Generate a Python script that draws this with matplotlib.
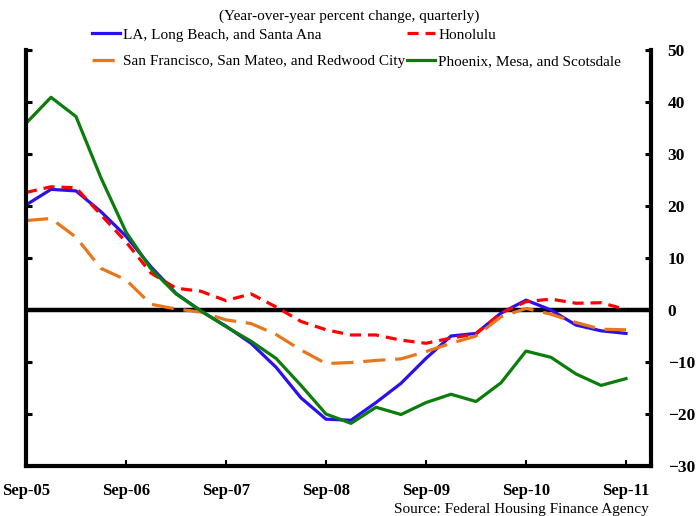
import matplotlib
matplotlib.use("Agg")
import matplotlib.pyplot as plt
import numpy as np

plt.rcParams['font.family'] = ['Liberation Serif', 'DejaVu Serif']
plt.rcParams['lines.scale_dashes'] = False

# quarterly, Sep-05 .. Sep-11
quarters = list(range(25))
tick_labels = ["Sep-05", "Sep-06", "Sep-07", "Sep-08", "Sep-09", "Sep-10", "Sep-11"]
tick_pos = [0, 4, 8, 12, 16, 20, 24]

la = [20.2, 23.2, 22.9, 18.9, 14.2, 8.3, 3.2, -0.2, -3.1, -6.4, -11.0, -16.9, -21.0,
      -21.2, -17.8, -14.1, -9.3, -5.0, -4.5, -0.6, 1.9, 0.0, -2.9, -4.0, -4.5]
honolulu = [22.6, 23.7, 23.5, 18.3, 13.1, 7.1, 4.2, 3.6, 1.8, 3.1, 0.6, -2.2, -3.8,
            -4.8, -4.8, -5.8, -6.4, -5.4, -4.6, -0.6, 1.6, 2.1, 1.3, 1.4, 0.1]
sf = [17.2, 17.6, 14.0, 8.0, 5.8, 1.1, 0.2, -0.4, -1.9, -2.6, -4.7, -7.7, -10.3,
      -10.1, -9.7, -9.4, -8.0, -6.4, -5.0, -1.3, 0.3, -0.8, -2.4, -3.7, -3.8]
phoenix = [35.9, 40.9, 37.2, 25.4, 15.0, 7.9, 3.1, -0.2, -3.2, -6.0, -9.3, -14.5, -20.0,
           -21.8, -18.7, -20.1, -17.8, -16.2, -17.6, -14.0, -7.9, -9.1, -12.3, -14.5, -13.2]

names = ["LA, Long Beach, and Santa Ana", "Honolulu",
         "San Francisco, San Mateo, and Redwood City", "Phoenix, Mesa, and Scotsdale"]

fig = plt.figure(figsize=(6.96, 5.16), dpi=100)
ax = fig.add_axes([26/696, 1-466/516, (651-26)/696, (466-50)/516])

lw = 2.3
l1, = ax.plot(quarters, la, color='#2a10f0', lw=lw)
l2, = ax.plot(quarters, honolulu, color='#ff0000', lw=lw, dashes=(8, 5))
l3, = ax.plot(quarters, sf, color='#e8761a', lw=lw, dashes=(16, 7))
l4, = ax.plot(quarters, phoenix, color='#0a7d0a', lw=lw)
ax.axhline(0, color='black', lw=3.2, zorder=0.5)

ax.set_xlim(0, 25)
ax.set_ylim(-30, 50)
ax.set_yticks(np.arange(-30, 51, 10))
ax.set_xticks(tick_pos)
ax.set_xticklabels(tick_labels, fontweight='bold', fontsize=12)
ax.tick_params(axis='y', left=True, right=True, labelleft=False, labelright=True,
               direction='in', length=4, width=2.2, pad=12, labelsize=12.5)
ax.tick_params(axis='x', direction='in', length=4, width=1.5, pad=12)
for lab in ax.get_yticklabels():
    lab.set_fontweight('bold')
for s in ['left', 'right', 'bottom']:
    ax.spines[s].set_linewidth(3)
ax.spines['top'].set_visible(False)

fig.text(349/696, 1-16/516, "(Year-over-year percent change, quarterly)",
         ha='center', va='center', fontsize=11)
fig.text(649/696, 1-509/516, "Source: Federal Housing Finance Agency",
         ha='right', va='center', fontsize=11)

# matplotlib fills legend columns first, so order handles for row-wise layout
leg = fig.legend([l1, l3, l2, l4], [names[0], names[2], names[1], names[3]],
                 ncol=2, frameon=False,
                 loc='upper left', bbox_to_anchor=(92/696, 1-28/516),
                 borderaxespad=0, fontsize=11, handlelength=1.85, handletextpad=0.2,
                 columnspacing=0.1, labelspacing=0.85, borderpad=0)

fig.savefig("out.png", dpi=100)
